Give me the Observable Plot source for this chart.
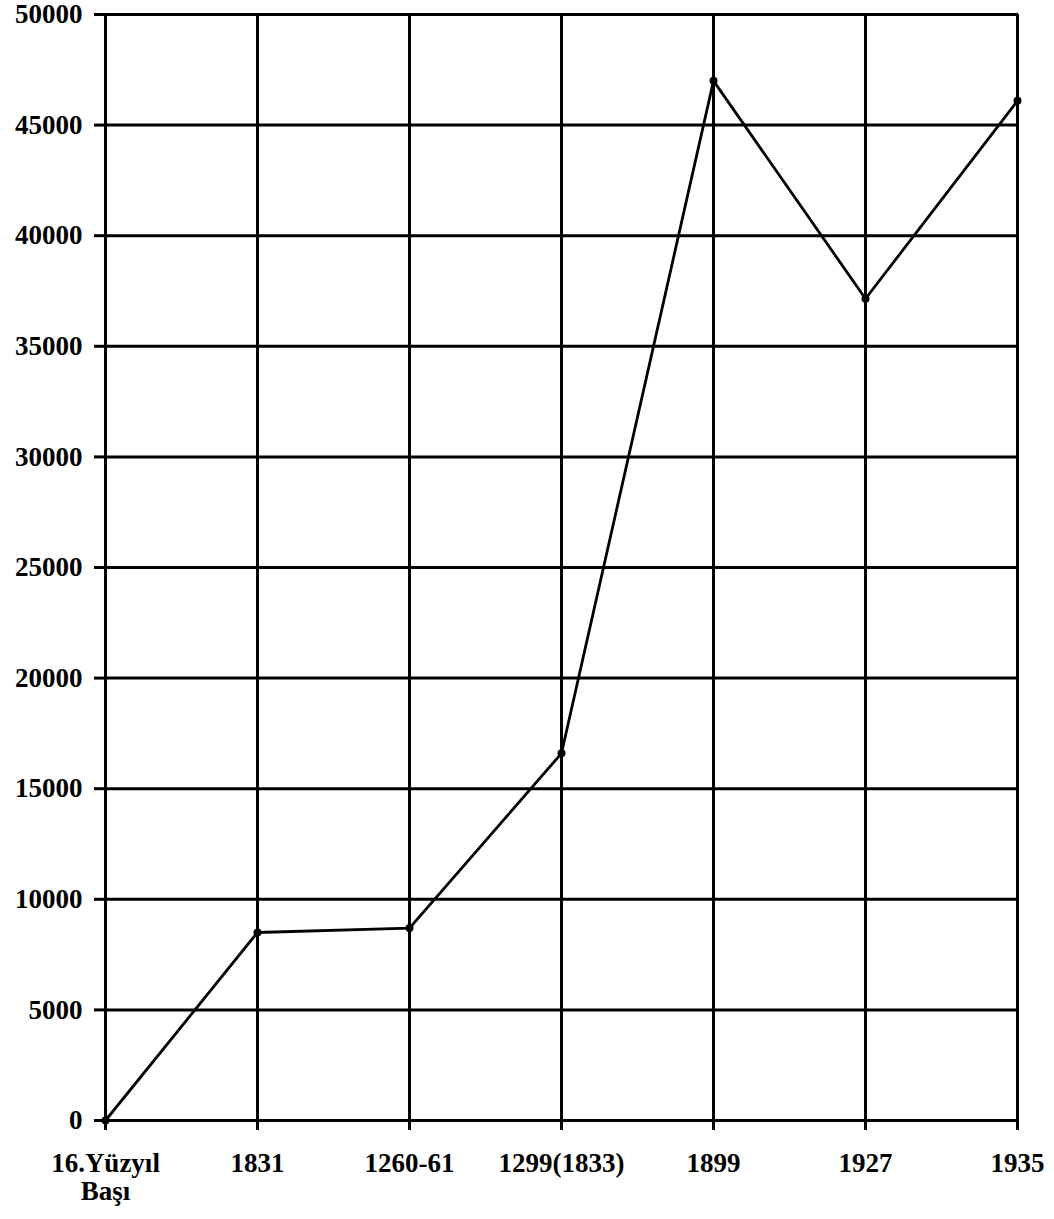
<!DOCTYPE html>
<html>
<head>
<meta charset="utf-8">
<script src="https://cdn.jsdelivr.net/npm/d3@7"></script>
<script src="https://cdn.jsdelivr.net/npm/@observablehq/plot@0.6"></script>
<style>
  html, body { margin: 0; padding: 0; background: #fff; }
  #chart { width: 1054px; height: 1219px; }
</style>
</head>
<body>
<div id="chart"></div>
<script>
const categories = ["16.Yüzyıl Başı", "1831", "1260-61", "1299(1833)", "1899", "1927", "1935"];
const values = [0, 8500, 8700, 16600, 47000, 37150, 46100];
const yTicks = [0, 5000, 10000, 15000, 20000, 25000, 30000, 35000, 40000, 45000, 50000];

const data = categories.map((c, i) => ({category: c, value: values[i]}));

const chart = Plot.plot({
  width: 1054,
  height: 1219,
  marginLeft: 104,
  marginRight: 36,
  marginTop: 14,
  marginBottom: 99,
  style: {
    fontFamily: "'Liberation Serif', 'Times New Roman', serif",
    fontWeight: "bold",
    fontSize: "27px",
    color: "black",
    background: "white"
  },
  x: {type: "point", domain: categories, padding: 0},
  y: {domain: [0, 50000]},
  marks: [
    Plot.ruleY(yTicks, {stroke: "black", strokeWidth: 3}),
    Plot.ruleX(categories, {stroke: "black", strokeWidth: 3}),
    Plot.axisY({
      ticks: yTicks,
      tickSize: 10,
      tickPadding: 12,
      label: null,
      tickFormat: d3.format("d"),
      strokeWidth: 3,
      fontSize: 27
    }),
    Plot.axisX({
      tickSize: 10,
      tickPadding: 21,
      label: null,
      tickFormat: d => d.replace(" ", "\n"),
      strokeWidth: 3,
      fontSize: 27,
      lineHeight: 1.05
    }),
    Plot.line(data, {x: "category", y: "value", stroke: "black", strokeWidth: 2.8}),
    Plot.dot(data, {x: "category", y: "value", r: 4, fill: "black", stroke: "none"})
  ]
});

document.getElementById("chart").appendChild(chart);
</script>
</body>
</html>
